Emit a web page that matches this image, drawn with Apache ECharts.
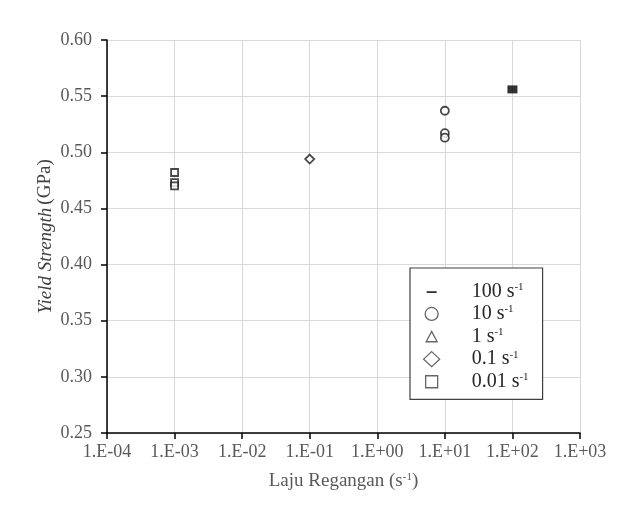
<!DOCTYPE html>
<html>
<head>
<meta charset="utf-8">
<script src="https://cdn.jsdelivr.net/npm/echarts@6/dist/echarts.min.js"></script>
<style>html,body{margin:0;padding:0;background:#fff}#c{width:638px;height:514px}</style>
</head>
<body>
<div id="c"></div>
<script>
// ---- data ----
const seriesNames = ['100', '10', '1', '0.1', '0.01'];
const x100 = [100];
const y100 = [0.556];
const x10 = [10, 10, 10];
const y10 = [0.537, 0.517, 0.513];
const x1 = [];
const y1 = [];
const x01 = [0.1];
const y01 = [0.494];
const x001 = [0.001, 0.001, 0.001];
const y001 = [0.482, 0.473, 0.470];
const xMin = 1e-4, xMax = 1e3;
const yMin = 0.25, yMax = 0.60, yStep = 0.05;
const xTitle = 'Laju Regangan (s';
const yTitleItalic = 'Yield Strength';
const yTitleUnit = '(GPa)';

const FONT = '"Liberation Serif", "Times New Roman", serif';
const pairs = (xs, ys) => xs.map((x, i) => [x, ys[i]]);

// legend icons in a 46x20 box (corner moveTo points fix the bounding box)
const BOX = 'M0,0 M46,20 ';
const icons = [
  BOX + 'M6,9.2 L16,9.2 L16,11 L6,11 Z',
  BOX + 'M4.5,10 A6.5,6.5 0 1 1 17.5,10 A6.5,6.5 0 1 1 4.5,10 Z',
  BOX + 'M11,4.8 L16.5,15.2 L5.5,15.2 Z',
  BOX + 'M11,2.5 L19,10 L11,17.5 L3,10 Z',
  BOX + 'M5,4 L17,4 L17,16 L5,16 Z'
];

const markerStyle = { color: '#fff', borderColor: '#1a1a1a', borderWidth: 1.8 };
const series = [
  { name: seriesNames[0], data: pairs(x100, y100), symbol: 'rect', symbolSize: [10, 8],
    itemStyle: { color: '#000', borderColor: '#000', borderWidth: 0 } },
  { name: seriesNames[1], data: pairs(x10, y10), symbol: 'circle', symbolSize: 8, itemStyle: markerStyle },
  { name: seriesNames[2], data: pairs(x1, y1), symbol: 'triangle', symbolSize: 8, itemStyle: markerStyle },
  { name: seriesNames[3], data: pairs(x01, y01), symbol: 'diamond', symbolSize: 9, itemStyle: markerStyle },
  { name: seriesNames[4], data: pairs(x001, y001), symbol: 'rect', symbolSize: 7, itemStyle: markerStyle }
].map(s => Object.assign({ type: 'scatter', z: 3 }, s));

const chart = echarts.init(document.getElementById('c'), null, { renderer: 'canvas' });
chart.setOption({
  animation: false,
  backgroundColor: '#fff',
  grid: { left: 107, right: 58, top: 40, bottom: 81 },
  xAxis: {
    type: 'log', logBase: 10, min: xMin, max: xMax,
    name: '{n|' + xTitle + '}{s|-1}{n|)}',
    nameLocation: 'middle', nameGap: 37,
    nameTextStyle: {
      rich: {
        n: { fontFamily: FONT, fontSize: 19, color: '#595959', lineHeight: 22 },
        s: { fontFamily: FONT, fontSize: 11, color: '#595959', lineHeight: 22, verticalAlign: 'top', padding: [2, 0, 0, 0] }
      }
    },
    axisLine: { show: true, onZero: false, lineStyle: { color: '#000', width: 1.5 } },
    axisTick: { show: true, inside: false, length: 6, lineStyle: { color: '#000', width: 1.5 } },
    minorTick: { show: false },
    axisLabel: {
      margin: 10, color: '#595959', fontFamily: FONT, fontSize: 18,
      formatter: v => {
        const e = Math.round(Math.log10(v));
        return '1.E' + (e < 0 ? '-' : '+') + String(Math.abs(e)).padStart(2, '0');
      }
    },
    splitLine: { show: true, lineStyle: { color: '#d9d9d9', width: 1 } }
  },
  yAxis: {
    type: 'value', min: yMin, max: yMax, interval: yStep,
    name: '{i|' + yTitleItalic + '}{n|' + yTitleUnit + '}',
    nameLocation: 'middle', nameGap: 52, nameRotate: 90, nameMoveOverlap: false,
    nameTextStyle: {
      rich: {
        i: { fontFamily: FONT, fontSize: 19, fontStyle: 'italic', color: '#404040' },
        n: { fontFamily: FONT, fontSize: 19, color: '#404040', padding: [0, 0, 0, 3] }
      }
    },
    axisLine: { show: true, onZero: false, lineStyle: { color: '#000', width: 1.5 } },
    axisTick: { show: true, inside: false, length: 6, lineStyle: { color: '#000', width: 1.5 } },
    axisLabel: {
      margin: 15, color: '#595959', fontFamily: FONT, fontSize: 18,
      formatter: v => v.toFixed(2)
    },
    splitLine: { show: true, lineStyle: { color: '#d9d9d9', width: 1 } }
  },
  legend: {
    orient: 'vertical', left: 410, top: 268,
    padding: [14, 14, 7, 10],
    borderColor: '#404040', borderWidth: 1.2, backgroundColor: '#fff',
    itemWidth: 46, itemHeight: 20, itemGap: 1.3,
    selectedMode: false,
    data: seriesNames.map((n, i) => ({
      name: n, icon: 'path://' + icons[i],
      itemStyle: i === 0
        ? { color: '#000', borderColor: '#000', borderWidth: 0 }
        : { color: '#fff', borderColor: '#404040', borderWidth: 1.3 }
    })),
    formatter: n => '{t|' + n + ' s}{s|-1}',
    textStyle: {
      rich: {
        t: { fontFamily: FONT, fontSize: 20, color: '#262626', lineHeight: 20 },
        s: { fontFamily: FONT, fontSize: 11, color: '#262626', lineHeight: 20, verticalAlign: 'top' }
      }
    }
  },
  series: series
});
</script>
</body>
</html>
